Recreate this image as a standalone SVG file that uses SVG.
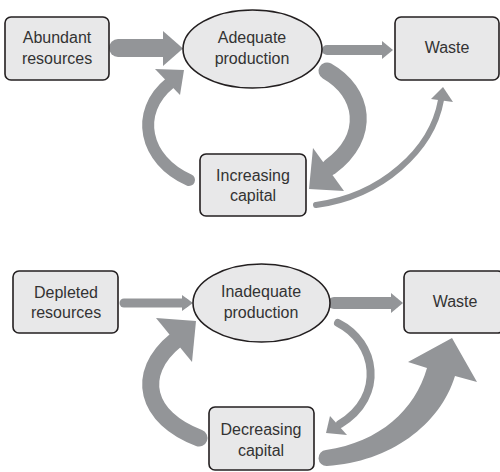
<svg xmlns="http://www.w3.org/2000/svg" width="500" height="472" viewBox="0 0 500 472">
<style>
.box{fill:#e8e8e9;stroke:#231f20;stroke-width:1.6}
.t{font-family:"Liberation Sans",Arial,sans-serif;font-size:16px;fill:#333;text-anchor:middle}
.sh{fill:none;stroke:#939598;stroke-linecap:round}
.hd{fill:#939598}
</style>
<rect width="500" height="472" fill="#fff"/>
<g id="connectors">
<!-- top -->
<line class="sh" x1="118" y1="48" x2="166" y2="48" stroke-width="18"/>
<polygon class="hd" points="163,31 183,48.5 163,66"/>
<line class="sh" x1="327" y1="50" x2="384" y2="50" stroke-width="10"/>
<polygon class="hd" points="382,41 393,50 382,59"/>
<path class="sh" d="M327,71 C364,92 372,136 330,167" stroke-width="17"/>
<polygon class="hd" points="313,148 309,189 344,191"/>
<path class="sh" d="M189,180 C144,160 134,112 170,83" stroke-width="12"/>
<polygon class="hd" points="155,69 184,70 180,95"/>
<path class="sh" d="M316,205 C382,196 432,150 441,100" stroke-width="6"/>
<polygon class="hd" points="431,99 443,87 453,102"/>
<!-- bottom -->
<line class="sh" x1="124" y1="303" x2="185" y2="303" stroke-width="9"/>
<polygon class="hd" points="182,295 193,303 182,311"/>
<line class="sh" x1="334" y1="303" x2="393" y2="303" stroke-width="12"/>
<polygon class="hd" points="391,293 403,303 391,313"/>
<path class="sh" d="M338,323 C376,342 386,396 340,424" stroke-width="8"/>
<polygon class="hd" points="330,416 326,433 347,435"/>
<path class="sh" d="M199,438 C146,418 134,374 176,340" stroke-width="17"/>
<polygon class="hd" points="156,318 196,321 192,362"/>
<path class="hd" d="M327,466 C390,462 440,425 455,376 L477,382 L452,338 L408,362 L427,368 C415,410 380,442 326,450 A8,8 0 0 0 327,466 Z"/>
</g>
<g id="abundant">
<rect class="box" x="5" y="17" width="104" height="63" rx="6"/>
<text class="t" x="57" y="43">Abundant</text>
<text class="t" x="57" y="64">resources</text>
</g>
<g id="adequate">
<ellipse class="box" cx="252.5" cy="49" rx="69.5" ry="39"/>
<text class="t" x="252" y="43">Adequate</text>
<text class="t" x="252" y="64">production</text>
</g>
<g id="waste1">
<rect class="box" x="395" y="17" width="104" height="63" rx="6"/>
<text class="t" x="447" y="53">Waste</text>
</g>
<g id="increasing">
<rect class="box" x="200" y="154" width="106" height="62" rx="6"/>
<text class="t" x="253" y="181">Increasing</text>
<text class="t" x="253" y="201">capital</text>
</g>
<g id="depleted">
<rect class="box" x="13" y="271" width="105" height="62" rx="6"/>
<text class="t" x="66" y="298">Depleted</text>
<text class="t" x="66" y="318">resources</text>
</g>
<g id="inadequate">
<ellipse class="box" cx="261.5" cy="303" rx="68.5" ry="39"/>
<text class="t" x="261" y="297">Inadequate</text>
<text class="t" x="261" y="318">production</text>
</g>
<g id="waste2">
<rect class="box" x="404" y="271" width="100" height="62" rx="6"/>
<text class="t" x="455" y="307">Waste</text>
</g>
<g id="decreasing">
<rect class="box" x="209" y="407" width="105" height="63" rx="6"/>
<text class="t" x="261" y="435">Decreasing</text>
<text class="t" x="261" y="456">capital</text>
</g>
</svg>
